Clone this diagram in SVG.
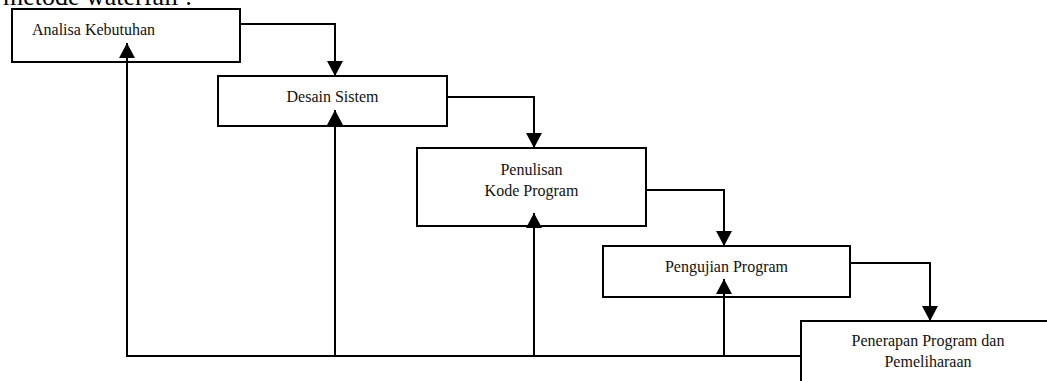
<svg xmlns="http://www.w3.org/2000/svg" width="1047" height="381" viewBox="0 0 1047 381">
  <defs>
    <style>
      .box { fill: #fff; stroke: #000; stroke-width: 2; }
      .lbl { font-family: "Liberation Serif", "Times New Roman", serif; font-size: 16px; fill: #111; }
      .mid { text-anchor: middle; }
      .wire { fill: none; stroke: #000; stroke-width: 2; }
      .head { marker-end: url(#tip); }
    </style>
    <marker id="tip" viewBox="0 0 15 16" refX="15" refY="8" markerWidth="15" markerHeight="16" markerUnits="userSpaceOnUse" orient="auto">
      <path d="M0,0 L15,8 L0,16 z" fill="#000"/>
    </marker>
  </defs>
  <rect width="1047" height="381" fill="#fff"/>

  <!-- heading line, clipped at the top -->
  <text x="3" y="5" font-family="'Liberation Serif', 'Times New Roman', serif" font-size="26" fill="#000">metode waterfall :</text>

  <g id="node-analisa">
    <rect class="box" x="12" y="9" width="228" height="53"/>
    <text class="lbl" x="32" y="35">Analisa Kebutuhan</text>
  </g>
  <g id="node-desain">
    <rect class="box" x="218" y="76" width="229" height="50"/>
    <text class="lbl mid" x="332.5" y="102">Desain Sistem</text>
  </g>
  <g id="node-penulisan">
    <rect class="box" x="417" y="148" width="229" height="78"/>
    <text class="lbl mid" x="531.5" y="175">Penulisan</text>
    <text class="lbl mid" x="531.5" y="196">Kode Program</text>
  </g>
  <g id="node-pengujian">
    <rect class="box" x="603" y="246" width="247" height="51"/>
    <text class="lbl mid" x="726.5" y="272">Pengujian Program</text>
  </g>
  <g id="node-penerapan">
    <rect class="box" x="801" y="321" width="260" height="80"/>
    <text class="lbl mid" x="928" y="346">Penerapan Program dan</text>
    <text class="lbl mid" x="928" y="367">Pemeliharaan</text>
  </g>

  <g id="connectors">
    <!-- forward steps -->
    <path class="wire head" d="M240,24 H335 V76"/>
    <path class="wire head" d="M447,97 H534 V148"/>
    <path class="wire head" d="M646,190 H724 V246"/>
    <path class="wire head" d="M850,263 H930 V321"/>
    <!-- feedback bus -->
    <path class="wire" d="M127,356 H801"/>
    <path class="wire head" d="M127,357 V43"/>
    <path class="wire head" d="M335,356 V110"/>
    <path class="wire head" d="M534,356 V213"/>
    <path class="wire head" d="M724,356 V279"/>
  </g>
</svg>
